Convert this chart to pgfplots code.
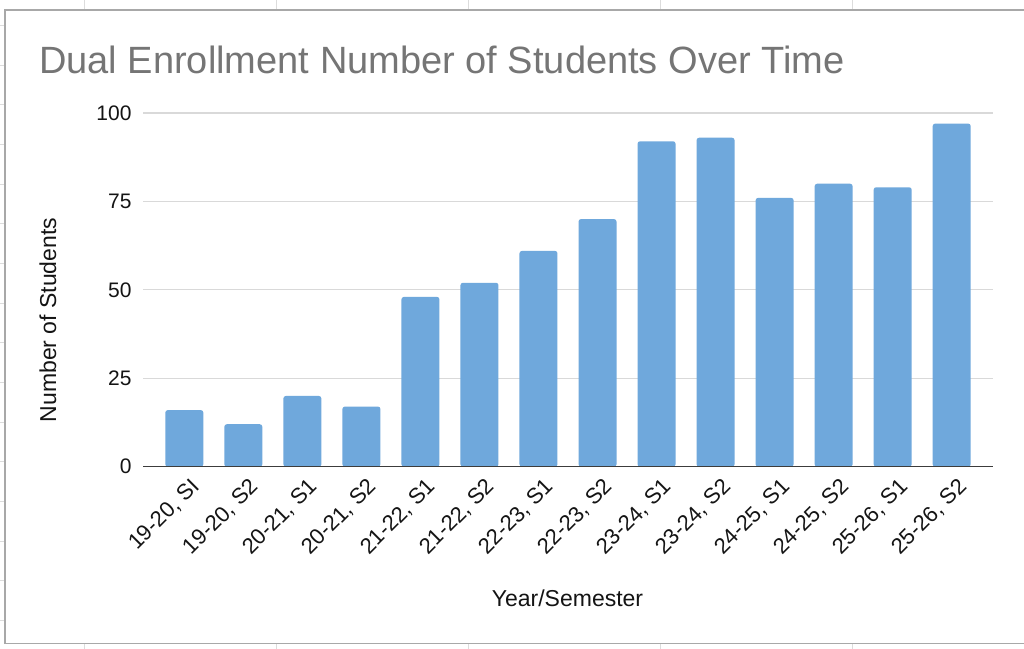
\documentclass[border=0pt]{standalone}
\usepackage{pgfplots}
\pgfplotsset{compat=1.18}
\usepackage{fontspec}
\setmainfont{Liberation Sans}
\definecolor{barblue}{RGB}{111,168,220}
\definecolor{titlegray}{RGB}{117,117,117}
\definecolor{gridgray}{RGB}{217,217,217}
\definecolor{framegray}{RGB}{168,168,168}
\definecolor{cellgray}{RGB}{220,220,220}
\definecolor{axisdark}{RGB}{60,60,60}
\definecolor{textdark}{RGB}{20,20,20}
\begin{document}
\begin{tikzpicture}[x=1bp,y=1bp]
\useasboundingbox (0,0) rectangle (1024,649);
\fill[white] (0,0) rectangle (1024,649);
% spreadsheet cell lines outside the chart frame
\foreach \xx in {84,276,468,660,852} {
  \draw[cellgray, line width=1bp] (\xx,649) -- (\xx,639);
  \draw[cellgray, line width=1bp] (\xx,0) -- (\xx,6);
}
\foreach \k in {0,...,15} {
  \draw[cellgray, line width=1bp] (0,{649-25.7-39.65*\k}) -- (5,{649-25.7-39.65*\k});
}
% chart frame
\draw[framegray, line width=1.8bp] (1040,639) -- (5,639) -- (5,5.5) -- (1040,5.5);
% title
\node[anchor=base west, inner sep=0, text=titlegray, font=\fontsize{38bp}{42bp}\selectfont] at (39,575) {Dual Enrollment Number of Students Over Time};
% axis labels
\node[rotate=90, inner sep=0, text=textdark, font=\fontsize{23bp}{26bp}\selectfont] at (48,329) {Number of Students};
\node[anchor=base, inner sep=0, text=textdark, font=\fontsize{23bp}{26bp}\selectfont] at (567.5,42) {Year/Semester};
\begin{axis}[
  at={(143bp,182.3bp)}, anchor=south west,
  scale only axis, width=850bp, height=353.7bp,
  ymin=0, ymax=100, xmin=-0.7, xmax=13.7,
  ytick={0,25,50,75,100},
  ymajorgrids, grid style={gridgray, line width=1.2bp},
  axis line style={draw=none},
  tick style={draw=none},
  /pgf/number format/assume math mode=true,
  yticklabel style={font=\fontsize{21bp}{24bp}\selectfont, text=textdark, xshift=-8bp},
  xtick={0,...,13},
  xticklabels={{19-20, SI},{19-20, S2},{20-21, S1},{20-21, S2},{21-22, S1},{21-22, S2},{22-23, S1},{22-23, S2},{23-24, S1},{23-24, S2},{24-25, S1},{24-25, S2},{25-26, S1},{25-26, S2}},
  xticklabel style={rotate=45, anchor=east, font=\fontsize{22bp}{24bp}\selectfont, text=textdark, xshift=3bp, yshift=-17bp},
  ybar, bar width=38bp,
]
\addplot[fill=barblue, draw=none, rounded corners=2.5bp] coordinates {
(0,16) (1,12) (2,20) (3,17) (4,48) (5,52) (6,61) (7,70) (8,92) (9,93) (10,76) (11,80) (12,79) (13,97)
};
\draw[axisdark, line width=1.6bp] (rel axis cs:0,0) -- (rel axis cs:1,0);
\end{axis}
\end{tikzpicture}
\end{document}
